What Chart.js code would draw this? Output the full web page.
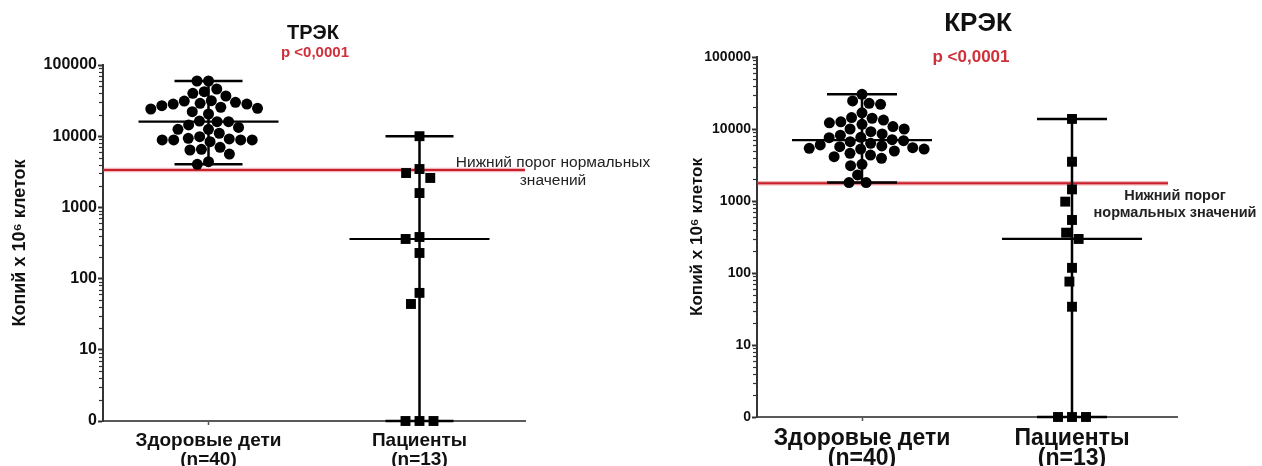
<!DOCTYPE html>
<html><head><meta charset="utf-8">
<script src="https://cdn.jsdelivr.net/npm/chart.js@4.4.1/dist/chart.umd.min.js"></script>
<style>
html,body{margin:0;padding:0;background:#fff;}
#wrap{position:relative;width:1262px;height:466px;overflow:hidden;}
.box{position:absolute;top:0;height:466px;}
#b1{left:0;width:660px;} #b2{left:660px;width:602px;}
</style></head><body>
<div id="wrap"><div class="box" id="b1"><canvas id="c1"></canvas></div><div class="box" id="b2"><canvas id="c2"></canvas></div></div>
<script>
// ---------- data ----------
const groupNames = ['Здоровые дети', 'Пациенты'];
const panelTitles = ['ТРЭК', 'КРЭК'];
const pValueText = 'p <0,0001';
const thresholdTextTrec = ['Нижний порог нормальных', 'значений'];
const thresholdTextKrec = ['Нижний порог', 'нормальных значений'];
const yAxisTitle = 'Копий x 10⁶ клеток';
const yMajorTicks = [1, 10, 100, 1000, 10000, 100000];
const yTickLabels = ['0', '10', '100', '1000', '10000', '100000'];

const trecHealthy = [59600, 59600, 46000, 42200, 40000, 36700,
  31200, 29900, 28300, 26800, 24600, 22100, 20500, 24100, 25500, 28300, 29000, 31500,
  16000, 14400, 12500, 11000, 12500, 13300, 16000, 16300,
  9350, 8850, 8850, 8380, 8850, 8850, 9140, 9840,
  6550, 5620, 6400, 6980, 4030, 4380];
const trecPatients = [10000, 3460, 3040, 2590, 1590, 384, 360, 229, 63, 44, 0, 0, 0];
const trecThreshold = 3350;

const krecHealthy = [30300, 22000, 24500, 22700, 16800, 14400,
  14100, 12600, 11600, 10000, 9180, 8530, 10000, 10800, 12200, 13300,
  7570, 6660, 6000, 5680, 5390, 5270, 5270, 5500, 5810, 6330, 6880, 7670,
  8200, 7100,
  4600, 4120, 3920, 4350, 4950, 3230, 3090, 2300, 1800, 1800];
const krecPatients = [13800, 3510, 1450, 980, 545, 363, 297, 118, 76, 34, 0, 0, 0];
const krecThreshold = 1760;

// ---------- helpers ----------
const FONT = '"Liberation Sans", Arial, sans-serif';
const floorVal = v => Math.max(v, 1); // zero is drawn on the "0" baseline of the log axis
function median(a) { const s = [...a].sort((x, y) => x - y); const n = s.length; return n % 2 ? s[(n - 1) / 2] : (s[n / 2 - 1] + s[n / 2]) / 2; }
const isMajor = v => Math.abs(Math.log10(v) - Math.round(Math.log10(v))) < 1e-9;

function makePanel(canvasId, P) {
  const groups = [P.healthy, P.patients];
  const datasets = groups.map((vals, gi) => ({
    data: vals.map(v => ({ x: gi + 1, y: floorVal(v) })),
    pointStyle: gi === 0 ? 'circle' : 'rect',
    pointRadius: gi === 0 ? P.dotR : P.sqR,
    pointHoverRadius: gi === 0 ? P.dotR : P.sqR,
    backgroundColor: '#000', borderColor: '#000', borderWidth: 0,
    showLine: false, clip: false
  }));

  const plugin = {
    id: 'panelDeco',
    beforeDatasetsDraw(chart) {
      const { ctx, chartArea } = chart; const ys = chart.scales.y;
      const y = ys.getPixelForValue(P.threshold);
      ctx.save();
      ctx.strokeStyle = 'rgba(205,40,50,0.35)'; ctx.lineWidth = 4.5;
      ctx.beginPath(); ctx.moveTo(chartArea.left, y); ctx.lineTo(chartArea.left + P.threshLen, y); ctx.stroke();
      ctx.strokeStyle = '#c8202c'; ctx.lineWidth = 2;
      ctx.beginPath(); ctx.moveTo(chartArea.left, y); ctx.lineTo(chartArea.left + P.threshLen, y); ctx.stroke();
      ctx.restore();
    },
    afterDatasetsDraw(chart) {
      const { ctx } = chart; const xs = chart.scales.x, ys = chart.scales.y;
      groups.forEach((vals, gi) => {
        const cx = xs.getPixelForValue(gi + 1);
        const yTop = ys.getPixelForValue(floorVal(Math.max(...vals)));
        const yBot = ys.getPixelForValue(floorVal(Math.min(...vals)));
        const yMed = ys.getPixelForValue(floorVal(median(vals)));
        ctx.save(); ctx.strokeStyle = '#000'; ctx.lineCap = 'butt';
        ctx.lineWidth = 2.5;
        ctx.beginPath();
        ctx.moveTo(cx, yTop); ctx.lineTo(cx, yBot);
        ctx.moveTo(cx - P.capHalf, yTop); ctx.lineTo(cx + P.capHalf, yTop);
        ctx.moveTo(cx - P.capHalf, yBot); ctx.lineTo(cx + P.capHalf, yBot);
        ctx.stroke();
        ctx.lineWidth = 2.2;
        ctx.beginPath();
        ctx.moveTo(cx - P.medHalf, yMed); ctx.lineTo(cx + P.medHalf, yMed);
        ctx.stroke();
        ctx.restore();
      });
    },
    afterDraw(chart) {
      const { ctx, chartArea } = chart; const ys = chart.scales.y;
      ctx.save();
      // minor ticks on the log axis
      ctx.strokeStyle = '#333'; ctx.lineWidth = 1.2;
      ys.ticks.forEach(t => {
        if (isMajor(t.value)) return;
        const y = Math.round(ys.getPixelForValue(t.value)) + 0.5;
        ctx.beginPath(); ctx.moveTo(chartArea.left - 4, y); ctx.lineTo(chartArea.left, y); ctx.stroke();
      });
      ctx.textAlign = 'center'; ctx.textBaseline = 'middle';
      ctx.fillStyle = '#111';
      ctx.font = 'bold ' + P.titleSize + 'px ' + FONT;
      ctx.fillText(P.title, P.titleX, P.titleY);
      ctx.fillStyle = '#d0303a';
      ctx.font = 'bold ' + P.pSize + 'px ' + FONT;
      ctx.fillText(pValueText, P.pX, P.pY);
      ctx.fillStyle = '#222';
      ctx.font = (P.annBold ? 'bold ' : '') + P.annSize + 'px ' + FONT;
      P.annText.forEach((line, i) => ctx.fillText(line, P.annX, P.annY + i * P.annGap));
      ctx.restore();
    }
  };

  const chart = new Chart(document.getElementById(canvasId), {
    type: 'scatter',
    data: { datasets },
    plugins: [plugin],
    options: {
      responsive: true, maintainAspectRatio: false, animation: false,
      layout: { padding: P.padding },
      plugins: { legend: { display: false }, tooltip: { enabled: false } },
      events: [],
      scales: {
        x: {
          type: 'linear', min: 0.5, max: 2.5,
          afterFit: s => { s.height = P.xHeight; },
          afterBuildTicks: s => { s.ticks = groupNames.map((n, i) => ({ value: i + 1 })); },
          ticks: {
            autoSkip: false, maxRotation: 0, padding: P.xPad, color: '#111',
            font: { family: FONT, size: P.xSize, weight: 'bold', lineHeight: P.xLH },
            callback: (v) => { const i = Math.round(v) - 1; return [groupNames[i], '(n=' + groups[i].length + ')']; }
          },
          grid: { display: true, drawOnChartArea: false, drawTicks: true, tickLength: 4, tickColor: '#555', tickWidth: 1.5 },
          border: { display: true, color: '#5a5a5a', width: 2 }
        },
        y: {
          type: 'logarithmic', min: 1, max: 100000,
          afterFit: s => { s.width = P.yWidth; },
          afterBuildTicks: s => {
            const t = [];
            for (let k = 0; k < yMajorTicks.length - 1; k++) for (let m = 1; m <= 9; m++) t.push({ value: m * yMajorTicks[k] });
            t.push({ value: yMajorTicks[yMajorTicks.length - 1] });
            s.ticks = t;
          },
          ticks: {
            autoSkip: false, padding: 1, color: '#111',
            font: { family: FONT, size: P.tickSize, weight: 'bold' },
            callback: (v) => { const i = yMajorTicks.indexOf(v); return i >= 0 ? yTickLabels[i] : ''; }
          },
          grid: {
            display: true, drawOnChartArea: false, drawTicks: true, tickLength: 5, tickWidth: 2,
            tickColor: ctx => (ctx.tick && isMajor(ctx.tick.value)) ? '#333' : 'rgba(0,0,0,0)'
          },
          border: { display: true, color: '#333', width: 2 },
          title: {
            display: true, text: yAxisTitle, color: '#111',
            font: { family: FONT, size: P.yTitleSize, weight: 'bold' },
            padding: { top: P.yTitlePad, bottom: 0 }
          }
        }
      }
    }
  });

  // beeswarm placement of the points around each category (pixel space)
  const xs = chart.scales.x, ys = chart.scales.y;
  const pxPerUnit = xs.getPixelForValue(2) - xs.getPixelForValue(1);
  chart.data.datasets.forEach((ds, gi) => {
    const d = P.spacing[gi];
    const placed = [];
    const order = ds.data.map((p, i) => i).sort((a, b) => ds.data[b].y - ds.data[a].y);
    order.forEach(i => {
      const py = ys.getPixelForValue(ds.data[i].y);
      const iv = [];
      placed.forEach(q => { const dy = Math.abs(q.py - py); if (dy < d) { const w = Math.sqrt(d * d - dy * dy); iv.push([q.px - w, q.px + w]); } });
      const cands = [0]; iv.forEach(([a, b]) => cands.push(a, b));
      cands.sort((a, b) => Math.abs(a) - Math.abs(b));
      let best = 0;
      for (const c of cands) { if (iv.every(([a, b]) => c <= a + 1e-6 || c >= b - 1e-6)) { best = c; break; } }
      placed.push({ px: best, py });
      ds.data[i].x = (gi + 1) + best / pxPerUnit;
    });
  });
  chart.update('none');
  return chart;
}

makePanel('c1', {
  healthy: trecHealthy, patients: trecPatients, threshold: trecThreshold, threshLen: 422,
  padding: { top: 65, right: 135, left: 0, bottom: 0 }, yWidth: 103, xHeight: 45,
  tickSize: 16, yTitleSize: 18, yTitlePad: 9,
  xSize: 19, xLH: 0.97, xPad: 7,
  dotR: 5.5, sqR: 7, spacing: [11.5, 14], capHalf: 34, medHalf: 70,
  title: panelTitles[0], titleSize: 20, titleX: 313, titleY: 33,
  pSize: 15, pX: 315, pY: 53,
  annText: thresholdTextTrec, annBold: false, annSize: 15.5, annX: 553, annY: 163, annGap: 18
});
makePanel('c2', {
  healthy: krecHealthy, patients: krecPatients, threshold: krecThreshold, threshLen: 411,
  padding: { top: 57, right: 85, left: 0, bottom: 0 }, yWidth: 97, xHeight: 49,
  tickSize: 14, yTitleSize: 17, yTitlePad: 27,
  xSize: 23, xLH: 0.85, xPad: 8,
  dotR: 5.5, sqR: 7, spacing: [11.5, 14], capHalf: 35, medHalf: 70,
  title: panelTitles[1], titleSize: 26, titleX: 318, titleY: 24,
  pSize: 17, pX: 311, pY: 57,
  annText: thresholdTextKrec, annBold: true, annSize: 14.5, annX: 515, annY: 196, annGap: 17
});
</script>
</body></html>
